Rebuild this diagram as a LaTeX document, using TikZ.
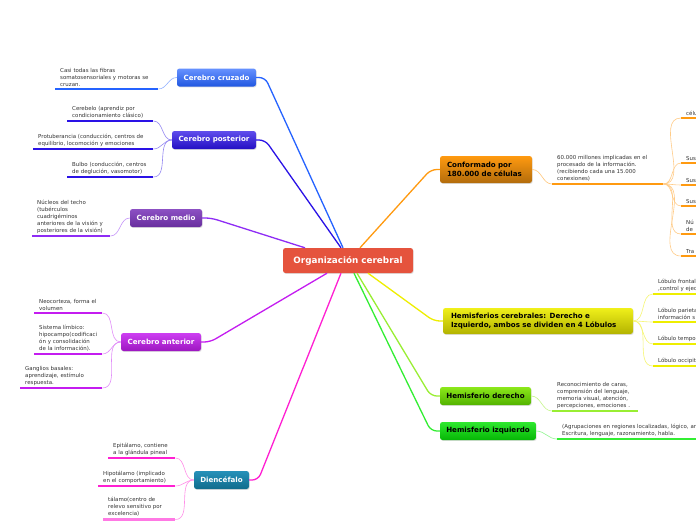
\documentclass[tikz,border=0pt]{standalone}
\usepackage{fontspec}
\setmainfont{DejaVu Sans}
\usepackage{xcolor}
\usepackage{tikz}
\usetikzlibrary{positioning,calc,shadows}
\definecolor{raizC}{HTML}{E5533D}
\definecolor{cruzC}{HTML}{2563FF}
\definecolor{posC}{HTML}{2A12E6}
\definecolor{medC}{HTML}{8E2CF5}
\definecolor{antC}{HTML}{C41CF0}
\definecolor{dieC}{HTML}{FF1FD2}
\definecolor{conC}{HTML}{FF9A10}
\definecolor{hemC}{HTML}{EEEE00}
\definecolor{derC}{HTML}{99EE33}
\definecolor{izqC}{HTML}{33EE33}
\definecolor{ink}{HTML}{333333}
\tikzset{
  rama/.style={draw=none, rounded corners=2.5pt, minimum height=18pt,
               inner xsep=4pt, inner ysep=2pt, align=center, text=white,
               font=\fontsize{7.1}{9.2}\selectfont\bfseries,
               drop shadow={opacity=0.25, shadow xshift=0.7pt, shadow yshift=-0.9pt}},
  raiz/.style={rama, fill=raizC, minimum width=130pt, minimum height=25pt,
               font=\fontsize{8.8}{10}\selectfont\bfseries},
  ramaosc/.style={rama, text=black, align=left},
  tronco/.style={line width=1.3pt, rounded corners=6pt},
  hoja/.style={anchor=south west, inner xsep=5pt, inner ysep=2.6pt, align=left,
               font=\fontsize{5.45}{7}\selectfont, text=ink},
  subr/.style={line width=2.3pt},
  enlace/.style={line width=0.6pt},
}

\begin{document}
\begin{tikzpicture}[x=1pt, y=-1pt]
  \useasboundingbox (0,0) rectangle (696,520);
  \fill[white] (0,0) rectangle (696,520);
  \clip (0,0) rectangle (696,520);

  % nodo central
  \node[raiz] (org) at (348,260.5) {Organización cerebral};

  % ramas de la izquierda
  \node[rama, minimum width=79pt, top color=cruzC!70!white, bottom color=cruzC!88!black]
       (cruz) at (216.5,77.5) {Cerebro cruzado};
  \node[rama, minimum width=84pt, top color=posC!75!white, bottom color=posC!85!black]
       (pos) at (214,140) {Cerebro posterior};
  \node[rama, minimum width=72pt, top color={rgb,255:red,140;green,80;blue,195}, bottom color={rgb,255:red,104;green,46;blue,158}]
       (med) at (166,218) {Cerebro medio};
  \node[rama, minimum width=80pt, top color=antC!85!white, bottom color=antC!80!black]
       (ant) at (161,342) {Cerebro anterior};
  \node[rama, minimum width=55pt, top color={rgb,255:red,38;green,145;blue,185}, bottom color={rgb,255:red,16;green,108;blue,140}]
       (die) at (221.5,480) {Diencéfalo};

  % ramas de la derecha
  \node[ramaosc, minimum width=92pt, minimum height=27pt, inner xsep=7pt, text width=78pt,
        top color=conC, bottom color=conC!70!black]
       (con) at (486,169.5) {Conformado por\\180.000 de células};
  \node[ramaosc, minimum width=190pt, minimum height=26pt, inner xsep=8pt, text width=174pt,
        top color=hemC!90!white, bottom color=hemC!75!black]
       (hem) at (538,321) {Hemisferios cerebrales: Derecho e\\Izquierdo, ambos se dividen en 4 Lóbulos};
  \node[ramaosc, minimum width=91pt, top color={rgb,255:red,140;green,232;blue,26}, bottom color={rgb,255:red,82;green,178;blue,0}]
       (der) at (485.5,396) {Hemisferio derecho};
  \node[ramaosc, minimum width=96pt, top color={rgb,255:red,46;green,232;blue,46}, bottom color={rgb,255:red,6;green,182;blue,6}]
       (izq) at (488,431) {Hemisferio izquierdo};

  % troncos desde el nodo central
  \draw[tronco, draw=cruzC] ($(org.north)+(-5,0)$) -- ($(cruz.east)+(9,0)$) -- (cruz.east);
  \draw[tronco, draw=posC]  ($(org.north)+(-7,0)$) -- ($(pos.east)+(9,0)$) -- (pos.east);
  \draw[tronco, draw=medC]  ($(org.north)+(-43,0)$) -- ($(med.east)+(9,0)$) -- (med.east);
  \draw[tronco, draw=antC]  ($(org.south)+(-21,0)$) -- ($(ant.east)+(9,0)$) -- (ant.east);
  \draw[tronco, draw=dieC]  ($(org.south)+(-7,0)$) -- ($(die.east)+(9,0)$) -- (die.east);
  \draw[tronco, draw=conC]  ($(org.north)+(12,0)$) -- ($(con.west)+(-9,0)$) -- (con.west);
  \draw[tronco, draw=hemC]  ($(org.south)+(20,0)$) -- ($(hem.west)+(-9,0)$) -- (hem.west);
  \draw[tronco, draw=derC]  ($(org.south)+(9,0)$) -- ($(der.west)+(-9,0)$) -- (der.west);
  \draw[tronco, draw=izqC]  ($(org.south)+(6,0)$) -- ($(izq.west)+(-9,0)$) -- (izq.west);

  % hojas de la izquierda
  \node[hoja, text width=93pt] (cz1) at (55,89)
       {Casi todas las fibras\\somatosensoriales y motoras se\\cruzan.};
  \node[hoja, text width=76pt] (ps1) at (67,121)
       {Cerebelo (aprendiz por\\condicionamiento clásico)};
  \node[hoja, text width=110pt] (ps2) at (33,149)
       {Protuberancia (conducción, centros de\\equilibrio, locomoción y emociones};
  \node[hoja, text width=76pt] (ps3) at (67,177)
       {Bulbo (conducción, centros\\de deglución, vasomotor)};
  \node[hoja, text width=68pt] (md1) at (32,236)
       {Núcleos del techo\\(tubérculos\\cuadrigéminos\\anteriores de la visión y\\posteriores de la visión)};
  \node[hoja, text width=58pt] (an1) at (34,313)
       {Neocorteza, forma el\\volumen};
  \node[hoja, text width=58pt] (an2) at (34,354)
       {Sistema límbico:\\hipocampo(codificaci\\ón y consolidación\\de la información).};
  \node[hoja, text width=72pt] (an3) at (20,388)
       {Ganglios basales:\\aprendizaje, estímulo\\respuesta.};
  \node[hoja, text width=57pt] (di1) at (108,458)
       {Epitálamo, contiene\\a la glándula pineal};
  \node[hoja, text width=67pt] (di2) at (98,486)
       {Hipotálamo (implicado\\en el comportamiento)};
  \node[hoja, text width=62pt] (di3) at (103,519.5)
       {tálamo(centro de\\relevo sensitivo por\\excelencia)};

  % hojas de la derecha
  \node[hoja, text width=101pt] (cn1) at (552,184)
       {60.000 millones implicadas en el\\procesado de la información.\\(recibiendo cada una 15.000\\conexiones)};
  \node[hoja, text width=40pt] (cc1) at (681,118) {célu};
  \node[hoja, text width=40pt] (cc2) at (681,163) {Sus};
  \node[hoja, text width=40pt] (cc3) at (681,185) {Sus};
  \node[hoja, text width=40pt] (cc4) at (681,206) {Sus};
  \node[hoja, text width=40pt] (cc5) at (681,234) {Nú\\de};
  \node[hoja, text width=40pt] (cc6) at (681,256) {Tra};
  \node[hoja, text width=60pt] (hm1) at (653,294) {Lóbulo frontal\\,control y ejec};
  \node[hoja, text width=60pt] (hm2) at (653,322) {Lóbulo parieta\\información s};
  \node[hoja, text width=60pt] (hm3) at (653,344) {Lóbulo tempo};
  \node[hoja, text width=60pt] (hm4) at (653,366) {Lóbulo occipita};
  \node[hoja, text width=76pt] (dr1) at (552,411)
       {Reconocimiento de caras,\\comprensión del lenguaje,\\memoria visual, atención,\\percepciones, emociones .};
  \node[hoja, text width=190pt] (iz1) at (557,439)
       {(Agrupaciones en regiones localizadas, lógico, ar\\Escritura, lenguaje, razonamiento, habla.};

  % subrayados
  \foreach \n/\c in {cz1/cruzC, ps1/posC, ps2/posC, ps3/posC, md1/medC,
                     an1/antC, an2/antC, an3/antC, di1/dieC, di2/dieC, di3/dieC!60!white,
                     cn1/conC, cc1/conC, cc2/conC, cc3/conC, cc4/conC, cc5/conC, cc6/conC,
                     hm1/hemC, hm2/hemC, hm3/hemC, hm4/hemC, dr1/derC, iz1/izqC}
    \draw[subr, draw=\c] (\n.south west) -- (\n.south east);

  % enlaces de las hojas
  \foreach \n/\r/\c in {cz1/cruz/cruzC, ps1/pos/posC, ps2/pos/posC, ps3/pos/posC,
                        md1/med/medC, an1/ant/antC, an2/ant/antC, an3/ant/antC,
                        di1/die/dieC, di2/die/dieC, di3/die/dieC}
    \draw[enlace, draw=\c!50!white] (\n.south east) to[out=0, in=180] (\r.west);
  \foreach \r/\n/\c in {con/cn1/conC, der/dr1/derC, izq/iz1/izqC,
                        hem/hm1/hemC, hem/hm2/hemC, hem/hm3/hemC, hem/hm4/hemC}
    \draw[enlace, draw=\c!55!white] (\r.east) to[out=0, in=180] (\n.south west);
  \foreach \n in {cc1,cc2,cc3,cc4,cc5,cc6}
    \draw[enlace, draw=conC!50!white] (cn1.south east) to[out=0, in=180] (\n.south west);
\end{tikzpicture}
\end{document}
